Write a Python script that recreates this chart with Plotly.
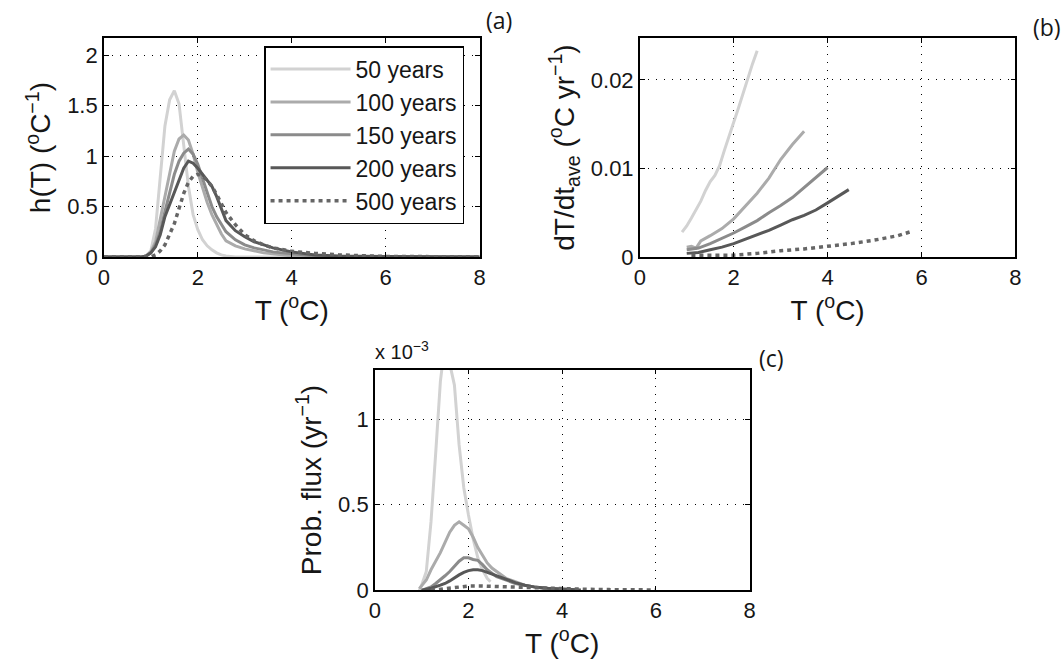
import plotly.graph_objects as go

# ---------------- data ----------------
series_names = ["50 years", "100 years", "150 years", "200 years", "500 years"]
colors = ["#d2d2d2", "#ababab", "#8b8b8b", "#585858", "#666666"]

# panel (a): h(T)
T_a = [0.0, 0.8, 0.9, 1.0, 1.1, 1.2, 1.3, 1.4, 1.5, 1.6, 1.7, 1.8, 1.9, 2.0, 2.1, 2.2,
       2.3, 2.4, 2.5, 2.6, 2.8, 3.0, 3.2, 3.4, 3.6, 3.8, 4.0, 4.5, 5.0, 6.0, 7.0, 8.0]
h50 = [0, 0, 0.01, 0.06, 0.28, 0.80, 1.30, 1.56, 1.65, 1.52, 1.10, 0.70, 0.42, 0.27, 0.17, 0.11,
       0.07, 0.04, 0.02, 0.01, 0, 0, 0, 0, 0, 0, 0, 0, 0, 0, 0, 0]
h100 = [0, 0, 0.01, 0.05, 0.15, 0.38, 0.62, 0.85, 1.05, 1.17, 1.21, 1.16, 1.02, 0.84, 0.68, 0.54,
        0.42, 0.32, 0.23, 0.16, 0.11, 0.08, 0.06, 0.04, 0.03, 0.02, 0.01, 0, 0, 0, 0, 0]
h150 = [0, 0, 0.01, 0.04, 0.12, 0.25, 0.45, 0.65, 0.82, 0.95, 1.03, 1.07, 1.02, 0.92, 0.78, 0.62,
        0.50, 0.40, 0.32, 0.25, 0.17, 0.12, 0.09, 0.07, 0.05, 0.04, 0.03, 0.01, 0.005, 0, 0, 0]
h200 = [0, 0, 0.01, 0.04, 0.10, 0.22, 0.40, 0.52, 0.62, 0.75, 0.88, 0.95, 0.93, 0.88, 0.82, 0.77,
        0.70, 0.60, 0.47, 0.36, 0.26, 0.20, 0.15, 0.12, 0.09, 0.07, 0.05, 0.02, 0.01, 0.003, 0, 0]
h500 = [0, 0, 0, 0.0, 0.02, 0.06, 0.12, 0.22, 0.33, 0.48, 0.63, 0.74, 0.80, 0.82, 0.80, 0.76,
        0.70, 0.62, 0.52, 0.44, 0.32, 0.22, 0.16, 0.12, 0.09, 0.07, 0.055, 0.035, 0.02, 0.005, 0.002, 0]

# panel (b): dT/dt_ave
T_b50 = [0.9, 1.0, 1.1, 1.2, 1.3, 1.4, 1.5, 1.6, 1.7, 1.8, 1.9, 2.0, 2.1, 2.2, 2.3, 2.4, 2.5]
r50 = [0.0028, 0.0035, 0.0044, 0.0053, 0.0063, 0.0075, 0.0085, 0.0092, 0.0103, 0.0120, 0.0135,
       0.0152, 0.0168, 0.0185, 0.0203, 0.0218, 0.0233]
T_b100 = [1.0, 1.1, 1.2, 1.3, 1.5, 1.75, 2.0, 2.25, 2.5, 2.75, 3.0, 3.25, 3.5]
r100 = [0.0011, 0.0012, 0.0010, 0.0018, 0.0024, 0.0032, 0.0043, 0.0057, 0.0072, 0.0089, 0.0110,
        0.0127, 0.0142]
T_b150 = [1.0, 1.25, 1.5, 1.75, 2.0, 2.25, 2.5, 2.75, 3.0, 3.25, 3.5, 3.75, 4.0]
r150 = [0.0008, 0.0010, 0.0015, 0.0021, 0.0027, 0.0034, 0.0041, 0.0050, 0.0058, 0.0067, 0.0078,
        0.0089, 0.0101]
T_b200 = [1.0, 1.25, 1.5, 1.75, 2.0, 2.25, 2.5, 2.75, 3.0, 3.25, 3.5, 3.75, 4.0, 4.25, 4.45]
r200 = [0.0004, 0.0005, 0.0008, 0.0011, 0.0015, 0.0020, 0.0025, 0.0030, 0.0036, 0.0042, 0.0047,
        0.0053, 0.0061, 0.0069, 0.0076]
T_b500 = [1.1, 1.5, 2.0, 2.5, 3.0, 3.5, 4.0, 4.5, 5.0, 5.5, 5.8]
r500 = [0.0002, 0.0002, 0.0002, 0.0004, 0.0007, 0.0009, 0.0012, 0.0015, 0.0019, 0.0024, 0.0029]

# panel (c): probability flux, in units of 1e-3 yr^-1
T_c50 = [0.95, 1.0, 1.1, 1.2, 1.3, 1.4, 1.5, 1.6, 1.7, 1.8, 1.9, 2.0, 2.1, 2.2, 2.3, 2.4, 2.47]
f50 = [0.0, 0.03, 0.11, 0.40, 0.80, 1.22, 1.45, 1.32, 1.20, 0.85, 0.60, 0.44, 0.30, 0.19, 0.12, 0.07, 0.05]
T_c100 = [0.95, 1.1, 1.2, 1.3, 1.4, 1.5, 1.6, 1.7, 1.8, 1.9, 2.0, 2.1, 2.2, 2.3, 2.4, 2.5, 2.6,
          2.8, 3.0, 3.2, 3.4, 3.6]
f100 = [0.01, 0.06, 0.12, 0.17, 0.22, 0.28, 0.34, 0.38, 0.40, 0.38, 0.36, 0.31, 0.25, 0.205, 0.16,
        0.13, 0.11, 0.07, 0.05, 0.03, 0.02, 0.01]
T_c150 = [1.0, 1.2, 1.3, 1.4, 1.5, 1.6, 1.7, 1.8, 1.9, 2.0, 2.1, 2.2, 2.3, 2.4, 2.6, 2.8, 3.0,
          3.2, 3.4, 3.7, 4.0, 4.3]
f150 = [0.0, 0.02, 0.04, 0.06, 0.085, 0.11, 0.14, 0.17, 0.19, 0.19, 0.18, 0.175, 0.15, 0.12, 0.08,
        0.06, 0.04, 0.03, 0.02, 0.01, 0.005, 0.003]
T_c200 = [1.0, 1.2, 1.4, 1.5, 1.6, 1.7, 1.8, 1.9, 2.0, 2.1, 2.2, 2.3, 2.4, 2.6, 2.8, 3.0, 3.2,
          3.4, 3.7, 4.0, 4.4]
f200 = [0.0, 0.012, 0.03, 0.04, 0.055, 0.075, 0.09, 0.105, 0.115, 0.12, 0.12, 0.115, 0.105, 0.085,
        0.065, 0.045, 0.03, 0.02, 0.012, 0.007, 0.002]
T_c500 = [1.2, 1.5, 1.8, 2.0, 2.3, 2.6, 3.0, 3.5, 4.0, 4.5, 5.0, 5.5, 6.0]
f500 = [0.0, 0.01, 0.02, 0.025, 0.025, 0.022, 0.017, 0.012, 0.008, 0.006, 0.004, 0.003, 0.002]

x_ticks = [0, 2, 4, 6, 8]
a_ticks = [0, 0.5, 1, 1.5, 2]
b_ticks = [0, 0.01, 0.02]
b_ticktext = ["0", "0.01", "0.02"]
c_ticks = [0, 0.5, 1]

# ---------------- figure ----------------
FONT = "Arial"
TXT = "#161616"
fig = go.Figure()

panel_a = [(T_a, h50), (T_a, h100), (T_a, h150), (T_a, h200), (T_a, h500)]
panel_b = [(T_b50, r50), (T_b100, r100), (T_b150, r150), (T_b200, r200), (T_b500, r500)]
panel_c = [(T_c50, f50), (T_c100, f100), (T_c150, f150), (T_c200, f200), (T_c500, f500)]


def line_style(i):
    if i == 4:
        return dict(color=colors[i], width=3.5, dash="4px,4px")
    return dict(color=colors[i], width=3)


for i, (x, y) in enumerate(panel_a):
    fig.add_trace(go.Scatter(x=x, y=y, mode="lines", name=series_names[i], line=line_style(i),
                             xaxis="x", yaxis="y", legendgroup=str(i), showlegend=True))
for i, (x, y) in enumerate(panel_b):
    fig.add_trace(go.Scatter(x=x, y=y, mode="lines", name=series_names[i], line=line_style(i),
                             xaxis="x2", yaxis="y2", showlegend=False))
for i, (x, y) in enumerate(panel_c):
    fig.add_trace(go.Scatter(x=x, y=y, mode="lines", name=series_names[i], line=line_style(i),
                             xaxis="x3", yaxis="y3", showlegend=False))

W, H = 1063, 669


def px_x(p):
    return p / W


def px_y(p):
    return 1 - p / H


common = dict(showline=True, linecolor="black", linewidth=1.5, mirror="ticks",
              ticks="inside", ticklen=5, tickcolor="black", tickwidth=1,
              showgrid=True, gridcolor="#000000", gridwidth=1, griddash="1px,7px",
              zeroline=False, tickfont=dict(size=22, color=TXT, family=FONT))

xtitle = dict(text="T (<sup>o</sup>C)", font=dict(size=28, color=TXT, family=FONT), standoff=6)

fig.update_layout(
    width=W, height=H,
    margin=dict(l=0, r=0, t=0, b=0),
    paper_bgcolor="white", plot_bgcolor="white",
    font=dict(family=FONT, color=TXT),
    xaxis=dict(domain=[px_x(99), px_x(479)], range=[0, 8], tickvals=x_ticks, anchor="y",
               title=xtitle, **common),
    yaxis=dict(domain=[px_y(262), px_y(39)], range=[0, 2.17], tickvals=a_ticks, anchor="x",
               title=dict(text="h(T) (<sup>o</sup>C<sup>−1</sup>)",
                          font=dict(size=28, color=TXT, family=FONT), standoff=8),
               **common),
    xaxis2=dict(domain=[px_x(641), px_x(1021)], range=[0, 8], tickvals=x_ticks, anchor="y2",
                title=xtitle, **common),
    yaxis2=dict(domain=[px_y(262), px_y(39)], range=[0, 0.0247], tickvals=b_ticks,
                ticktext=b_ticktext, anchor="x2",
                title=dict(text="dT/dt<sub>ave</sub> (<sup>o</sup>C yr<sup>−1</sup>)",
                           font=dict(size=28, color=TXT, family=FONT), standoff=8),
                **common),
    xaxis3=dict(domain=[px_x(373), px_x(752)], range=[0, 8], tickvals=x_ticks, anchor="y3",
                title=xtitle, **common),
    yaxis3=dict(domain=[px_y(602), px_y(377)], range=[0, 1.29], tickvals=c_ticks, anchor="x3",
                title=dict(text="Prob. flux (yr<sup>−1</sup>)",
                           font=dict(size=28, color=TXT, family=FONT), standoff=8),
                **common),
    legend=dict(x=px_x(261), y=px_y(47), xanchor="left", yanchor="top",
                bgcolor="white", bordercolor="black", borderwidth=1.5,
                font=dict(size=23, color=TXT, family=FONT),
                itemwidth=80, tracegroupgap=0),
    showlegend=True,
)

labels = [("(a)", 483, 20), ("(b)", 1037, 28), ("(c)", 760, 365)]
for txt, xp, yp in labels:
    fig.add_annotation(text=txt, x=px_x(xp), y=px_y(yp), xref="paper", yref="paper",
                       xanchor="left", yanchor="middle", showarrow=False,
                       font=dict(size=23, color=TXT, family="Open Sans"))

fig.add_annotation(text="x 10<sup>−3</sup>", x=px_x(371), y=px_y(372), xref="paper", yref="paper",
                   xanchor="left", yanchor="bottom", showarrow=False,
                   font=dict(size=20, color=TXT, family=FONT))

fig.write_html("out.html")
